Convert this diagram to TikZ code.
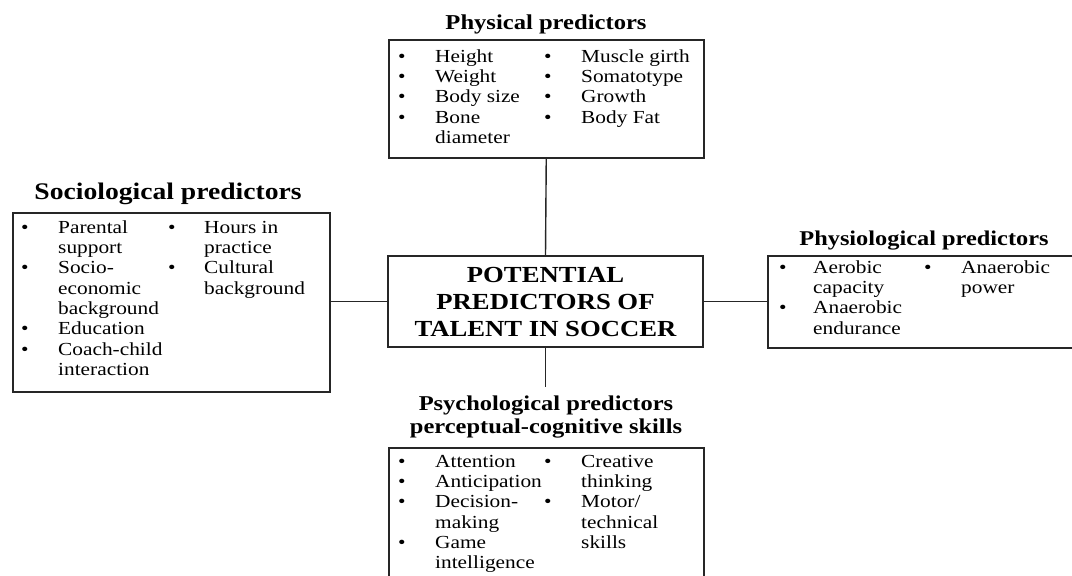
\documentclass[tikz,border=0pt]{standalone}
\usepackage{fontspec}
\setmainfont{Liberation Serif}[FakeStretch=1.16]
\begin{document}
\begin{tikzpicture}[x=1pt,y=-1pt,
  box/.style={draw=black!85,line width=1.5pt,inner sep=0pt},
  ttl/.style={font=\bfseries, inner sep=0pt, anchor=base},
  col/.style={inner sep=0pt, anchor=north west, font=\fontsize{18.4}{20.3}\selectfont},
  link/.style={draw=black!85,line width=1.4pt}]
\useasboundingbox (0,0) rectangle (1072,576);

% boxes
\node[box, minimum width=315pt, minimum height=118pt, anchor=north west] (phys) at (388,39) {};
\node[box, minimum width=317pt, minimum height=179pt, anchor=north west] (socio) at (12,212) {};
\node[box, minimum width=320pt, minimum height=92pt, anchor=north west] (physio) at (767,255) {};
\node[box, minimum width=315pt, minimum height=160pt, anchor=north west] (psycho) at (388,447) {};
\node[box, minimum width=315pt, minimum height=91pt, align=center,
      font=\bfseries\fontsize{23}{27}\selectfont] (center) at (545.5,301.5)
      {POTENTIAL\\PREDICTORS OF\\TALENT IN SOCCER};

% titles
\node[ttl, font=\bfseries\fontsize{21.2}{24}\selectfont] (physt) at (546,29) {Physical predictors};
\node[ttl, font=\bfseries\fontsize{23.8}{28}\selectfont] (sociot) at (168,199) {Sociological predictors};
\node[ttl, font=\bfseries\fontsize{21}{24}\selectfont] (physiot) at (924,245) {Physiological predictors};
\node[ttl, font=\bfseries\fontsize{21.1}{24}\selectfont] (psyt1) at (546,410) {Psychological predictors};
\node[ttl, font=\bfseries\fontsize{21.1}{24}\selectfont] (psyt2) at (546,433) {perceptual-cognitive skills};

% connectors
\coordinate (psyend) at (545.5,387);
\draw[link] (phys.south) -- (center.north);
\draw[link] (center.west) -- (center.west -| socio.east);
\draw[link] (center.east) -- (center.east -| physio.west);
\draw[link] (center.south) -- (psyend);

% lists
\node[col] (ph1) at (398,47.8) {\begin{tabular}{@{}p{37pt}@{}l@{}}
\textbullet & Height\\ \textbullet & Weight\\ \textbullet & Body size\\ \textbullet & Bone\\ & diameter\end{tabular}};
\node[col] (ph2) at (544,47.8) {\begin{tabular}{@{}p{37pt}@{}l@{}}
\textbullet & Muscle girth\\ \textbullet & Somatotype\\ \textbullet & Growth\\ \textbullet & Body Fat\end{tabular}};

\node[col] (so1) at (21,218.8) {\begin{tabular}{@{}p{37pt}@{}l@{}}
\textbullet & Parental\\ & support\\ \textbullet & Socio-\\ & economic\\ & background\\ \textbullet & Education\\ \textbullet & Coach-child\\ & interaction\end{tabular}};
\node[col] (so2) at (168,218.8) {\begin{tabular}{@{}p{36pt}@{}l@{}}
\textbullet & Hours in\\ & practice\\ \textbullet & Cultural\\ & background\end{tabular}};

\node[col] (pi1) at (779,258.8) {\begin{tabular}{@{}p{34pt}@{}l@{}}
\textbullet & Aerobic\\ & capacity\\ \textbullet & Anaerobic\\ & endurance\end{tabular}};
\node[col] (pi2) at (924,258.8) {\begin{tabular}{@{}p{37pt}@{}l@{}}
\textbullet & Anaerobic\\ & power\end{tabular}};

\node[col] (ps1) at (398,452.8) {\begin{tabular}{@{}p{37pt}@{}l@{}}
\textbullet & Attention\\ \textbullet & Anticipation\\ \textbullet & Decision-\\ & making\\ \textbullet & Game\\ & intelligence\end{tabular}};
\node[col] (ps2) at (544,452.8) {\begin{tabular}{@{}p{37pt}@{}l@{}}
\textbullet & Creative\\ & thinking\\ \textbullet & Motor/\\ & technical\\ & skills\end{tabular}};
\end{tikzpicture}
\end{document}
